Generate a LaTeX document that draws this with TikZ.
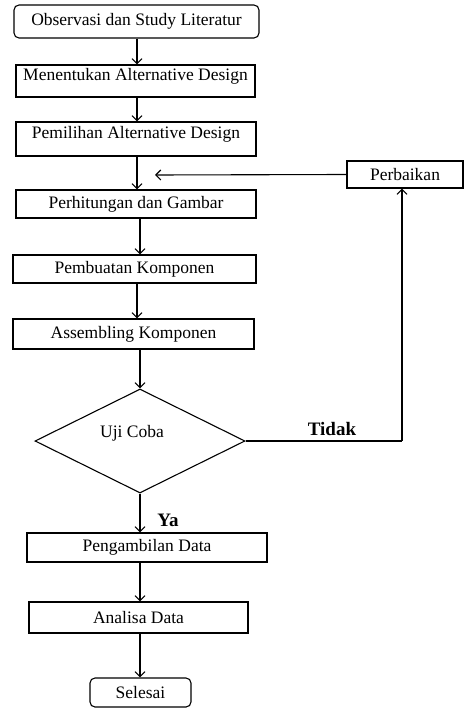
\documentclass[tikz,border=0pt]{standalone}
\usepackage{fontspec}
\setmainfont{Liberation Serif}
\usetikzlibrary{shapes.geometric,arrows.meta}

\begin{document}
\begin{tikzpicture}[x=1pt,y=-1pt,
  every node/.style={font=\fontsize{17.5pt}{20pt}\selectfont},
  box/.style={draw,line width=1.1pt,rectangle,inner sep=0pt},
  endbox/.style={box,rounded corners=5pt},
  hightext/.style={text height=12pt,text depth=12pt},
  decision/.style={draw,line width=1.1pt,diamond,inner sep=0pt},
  arr/.style={line width=1.1pt,-{Straight Barb[length=5pt,width=10pt]}},
  note/.style={font=\fontsize{19pt}{22pt}\selectfont\bfseries}]
\useasboundingbox (0,0) rectangle (464,708);

% BOXES
\node[endbox,minimum width=245pt,minimum height=33pt] (obs) at (136.5,21.5) {Observasi dan Study Literatur};
\node[box,hightext,minimum width=239pt,minimum height=32pt] (alt) at (135.5,81) {Menentukan Alternative Design};
\node[box,hightext,minimum width=240pt,minimum height=34pt] (pil) at (136,139) {Pemilihan Alternative Design};
\node[box,minimum width=240pt,minimum height=28pt] (hit) at (136,204) {Perhitungan dan Gambar};
\node[box,minimum width=243pt,minimum height=28pt] (buat) at (134.5,269) {Pembuatan Komponen};
\node[box,minimum width=241pt,minimum height=30pt] (asm) at (133.5,334) {Assembling Komponen};

\node[decision,minimum width=210pt,minimum height=104pt] (uji) at (140,441) {};
\node (ujitxt) at (132,433) {Uji Coba};

\node[box,minimum width=240pt,minimum height=29pt] (ambil) at (147,547.5) {Pengambilan Data};
\node[box,minimum width=219pt,minimum height=31pt] (anal) at (138.5,617.5) {Analisa Data};
\node[endbox,minimum width=101pt,minimum height=29pt] (sel) at (140.5,692.5) {Selesai};

\node[box,minimum width=116pt,minimum height=27pt] (baik) at (405,174.5) {Perbaikan};

\coordinate (col) at (137,0);
\coordinate (turn) at (402,441);
\coordinate (back) at (155,175);

% ARROWS
\draw[arr] (obs.south -| col) -- (alt.north -| col);
\draw[arr] (alt.south -| col) -- (pil.north -| col);
\draw[arr] (pil.south -| col) -- (hit.north -| col);
\draw[arr] (hit.south -| uji.north) -- (buat.north -| uji.north);
\draw[arr] (buat.south -| col) -- (asm.north -| col);
\draw[arr] (asm.south -| uji.north) -- (uji.north);
\draw[arr] (uji.south) -- (ambil.north -| uji.south);
\draw[arr] (ambil.south -| uji.south) -- (anal.north -| uji.south);
\draw[arr] (anal.south -| uji.south) -- (sel.north -| uji.south);

% LOOP BACK
\draw[line width=1.1pt] (uji.east) -- (turn);
\draw[arr] (turn) -- (baik.south -| turn);
\draw[arr] (baik.west) -- (back);

% NOTES
\node[note] (tidak) at (332,429) {Tidak};
\node[note] (ya) at (168,520) {Ya};
\end{tikzpicture}
\end{document}
